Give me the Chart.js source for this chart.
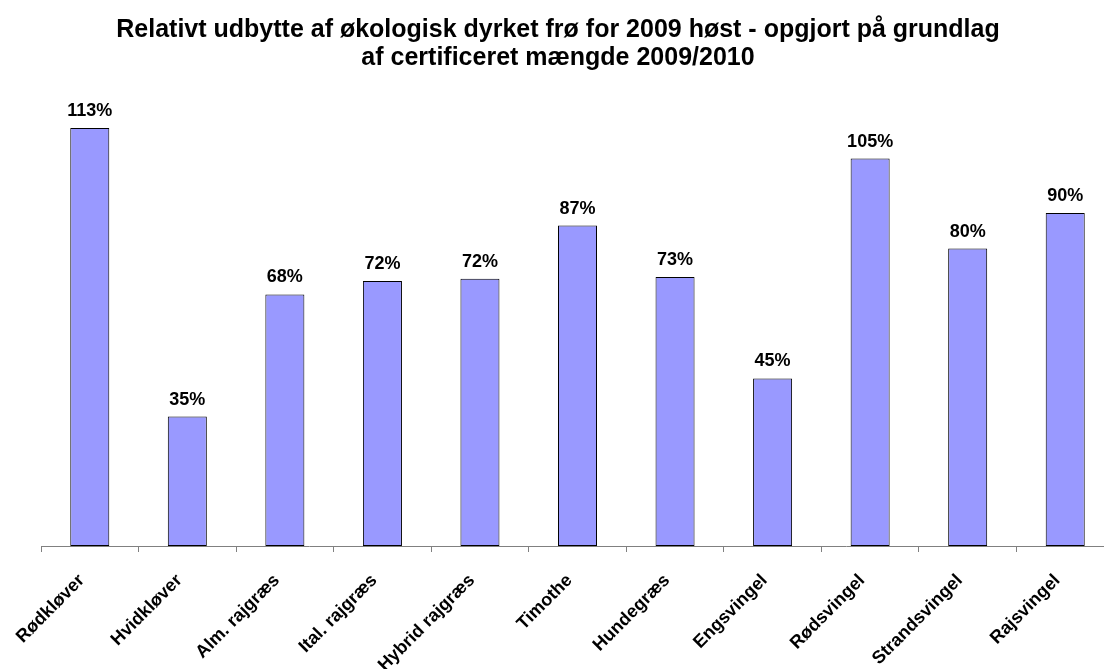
<!DOCTYPE html>
<html>
<head>
<meta charset="utf-8">
<script src="https://cdn.jsdelivr.net/npm/chart.js@4"></script>
<style>
    html, body { margin: 0; padding: 0; overflow: hidden; background: #fff; }
    #wrap { position: relative; width: 1104px; height: 669px; overflow: hidden; }
    #title {
        position: absolute; left: 0; top: 14px; width: 1116px;
        text-align: center; font: bold 25px "Liberation Sans", Arial, sans-serif;
        line-height: 28px; color: #000;
    }
    canvas { position: absolute; left: 0; top: 0; }
</style>
</head>
<body>
<div id="wrap">
    <canvas id="yieldChart" width="1114" height="669"></canvas>
    <div id="title">Relativt udbytte af økologisk dyrket frø for 2009 høst - opgjort på grundlag<br>af certificeret mængde 2009/2010</div>
</div>
<script>
const categories = ["Rødkløver", "Hvidkløver", "Alm. rajgræs", "Ital. rajgræs", "Hybrid rajgræs",
    "Timothe", "Hundegræs", "Engsvingel", "Rødsvingel", "Strandsvingel", "Rajsvingel"];
const yieldPct = [113, 35, 68, 71.6, 72.2, 86.6, 72.7, 45.3, 104.7, 80.4, 90];
const yMax = 120;

const FONT = "'Liberation Sans', Arial, sans-serif";

const valueLabels = {
    id: "valueLabels",
    afterDatasetsDraw(chart) {
        const ctx = chart.ctx;
        const meta = chart.getDatasetMeta(0);
        ctx.save();
        ctx.font = "bold 18px " + FONT;
        ctx.fillStyle = "#000";
        ctx.textAlign = "center";
        ctx.textBaseline = "alphabetic";
        meta.data.forEach((bar, i) => {
            ctx.fillText(Math.round(yieldPct[i]) + "%", bar.x, bar.y - 12);
        });
        ctx.restore();
    }
};

new Chart(document.getElementById("yieldChart").getContext("2d"), {
    type: "bar",
    data: {
        labels: categories,
        datasets: [{
            data: yieldPct,
            backgroundColor: "#9999FF",
            borderColor: "#000",
            borderWidth: 1,
            borderSkipped: false,
            categoryPercentage: 1,
            barPercentage: 0.4
        }]
    },
    options: {
        responsive: false,
        animation: false,
        layout: { padding: { left: 41, top: 102, right: 0, bottom: 0 } },
        plugins: {
            legend: { display: false },
            tooltip: { enabled: false }
        },
        scales: {
            y: { display: false, min: 0, max: yMax },
            x: {
                afterFit(scale) { scale.height = 123; },
                grid: {
                    offset: true,
                    drawOnChartArea: false,
                    tickLength: 6,
                    color: "#808080"
                },
                border: { color: "#808080", width: 1 },
                ticks: {
                    minRotation: 45,
                    maxRotation: 45,
                    color: "#000",
                    padding: 18,
                    labelOffset: -8,
                    font: { family: FONT, size: 18, weight: "bold" }
                }
            }
        }
    },
    plugins: [valueLabels]
});
</script>
</body>
</html>
